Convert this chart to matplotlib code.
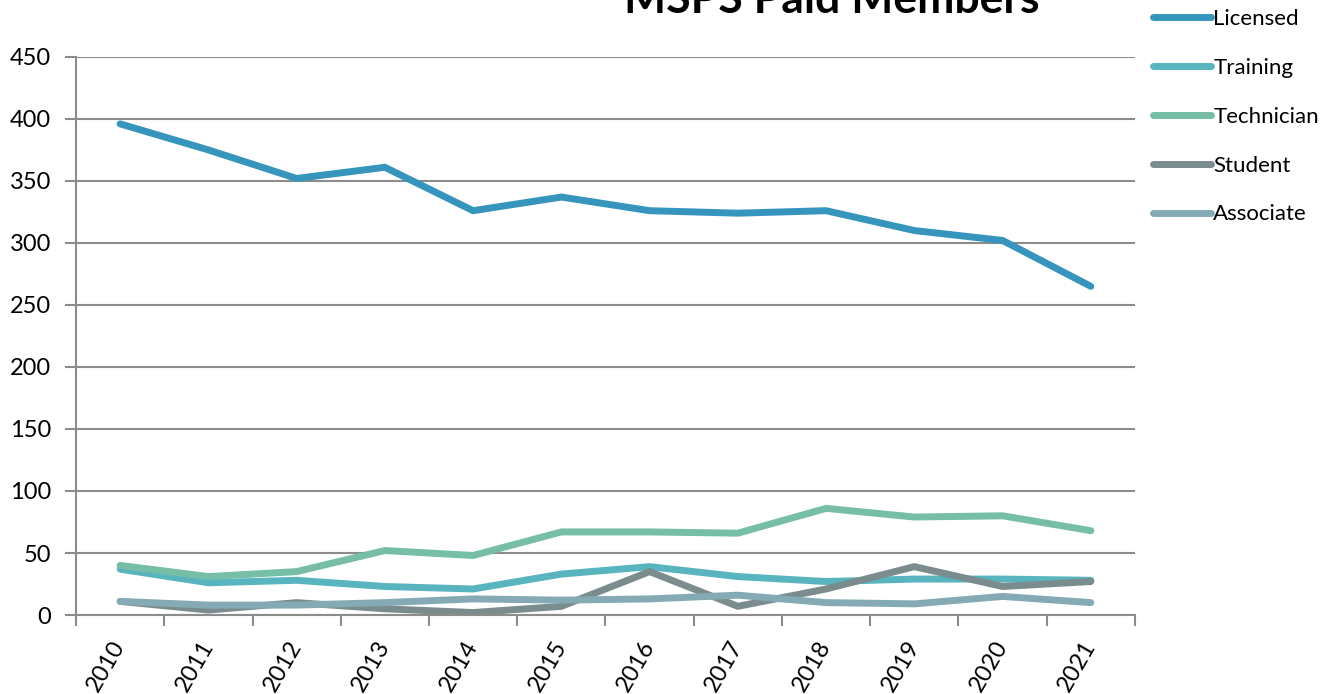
import matplotlib
matplotlib.use('Agg')
import matplotlib.pyplot as plt
import matplotlib.transforms as mtrans
import numpy as np

plt.rcParams['font.family'] = ['Lato', 'DejaVu Sans']

# Data
years = ['2010', '2011', '2012', '2013', '2014', '2015',
         '2016', '2017', '2018', '2019', '2020', '2021']
licensed = [396, 375, 352, 361, 326, 337, 326, 324, 326, 310, 302, 265]
training = [37, 26, 28, 23, 21, 33, 39, 31, 27, 29, 29, 28]
technician = [40, 31, 35, 52, 48, 67, 67, 66, 86, 79, 80, 68]
student = [11, 4, 10, 5, 2, 7, 35, 7, 21, 39, 23, 27]
associate = [11, 8, 8, 10, 13, 12, 13, 16, 10, 9, 15, 10]

series = [('Licensed', licensed, '#3595bd'),
          ('Training', training, '#58b5c0'),
          ('Technician', technician, '#76bea5'),
          ('Student', student, '#7a8c8d'),
          ('Associate', associate, '#84abb5')]

fig = plt.figure(figsize=(13.29, 6.94), dpi=100)
ax = fig.add_axes([0.0572, 0.1138, 0.7968, 0.8042])

x = np.arange(len(years))
for name, vals, col in series:
    ax.plot(x, vals, color=col, lw=5, solid_capstyle='round',
            solid_joinstyle='miter', label=name)

grid_col = '#8c8c8c'
ax.set_ylim(0, 450)
ax.set_yticks(np.arange(0, 451, 50))
ax.set_xlim(-0.5, len(years) - 0.5)
ax.yaxis.grid(True, color=grid_col, lw=1.5)
ax.set_axisbelow(True)

# labels at category centres, tick marks at boundaries
ax.set_xticks(x)
ax.set_xticklabels(years, rotation=60, ha='right', va='top', fontsize=17)
ax.tick_params(axis='x', which='major', length=0, pad=16)
shift = mtrans.ScaledTranslation(0.09, 0, fig.dpi_scale_trans)
for lab in ax.get_xticklabels():
    lab.set_transform(lab.get_transform() + shift)
ax.set_xticks(np.arange(-0.5, len(years)), minor=True)
ax.tick_params(axis='x', which='minor', length=8, width=1.5, color=grid_col)
ax.tick_params(axis='y', length=8, width=1.5, color=grid_col, labelsize=17, pad=10)

for s in ['top', 'right']:
    ax.spines[s].set_visible(False)
for s in ['left', 'bottom']:
    ax.spines[s].set_color(grid_col)
    ax.spines[s].set_linewidth(1.5)

fig.text(0.626, 0.981, 'MSPS Paid Members', ha='center', va='baseline',
         fontsize=32, fontweight='bold')

fig.legend(loc='upper left', bbox_to_anchor=(0.861, 1.0), frameon=False,
           fontsize=16, handlelength=2.6, handletextpad=0.1,
           labelspacing=1.3, borderaxespad=0)

fig.savefig('out.png', dpi=100)
